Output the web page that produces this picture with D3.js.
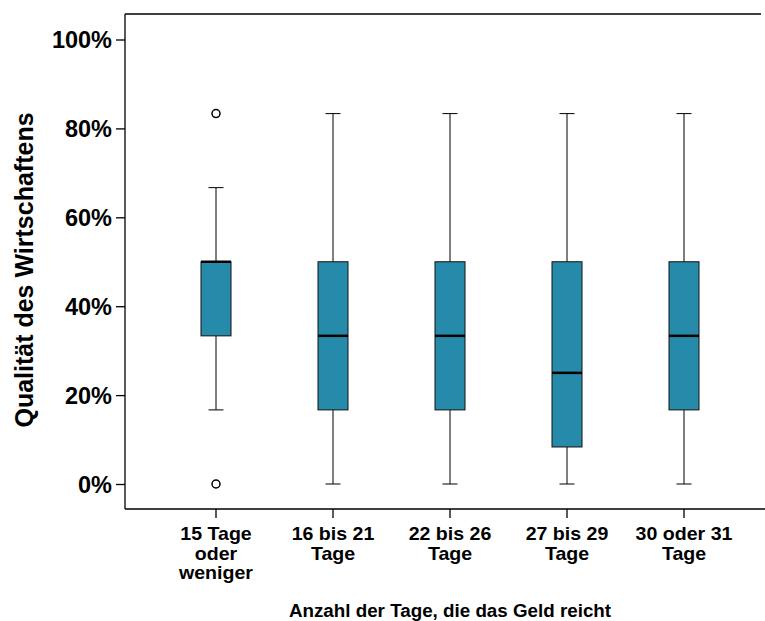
<!DOCTYPE html>
<html><head><meta charset="utf-8">
<script src="https://cdn.jsdelivr.net/npm/d3@7"></script>
<style>body{margin:0;background:#fff}svg{display:block}</style>
</head><body>
<svg id="c" width="765" height="621"></svg>
<script>
const categories = [["15 Tage","oder","weniger"],["16 bis 21","Tage"],["22 bis 26","Tage"],["27 bis 29","Tage"],["30 oder 31","Tage"]];
const whiskerLow  = [16.67, 0, 0, 0, 0];
const q1          = [33.33, 16.67, 16.67, 8.33, 16.67];
const median      = [50, 33.33, 33.33, 25, 33.33];
const q3          = [50, 50, 50, 50, 50];
const whiskerHigh = [66.67, 83.33, 83.33, 83.33, 83.33];
const outliers    = [[0, 83.33], [], [], [], []];
const yTicks = [0, 20, 40, 60, 80, 100];

(function(){
const svg = d3.select("#c");
const left = 125, topY = 14, bottom = 509;
const font = "'Liberation Sans', Arial, sans-serif";

const y = d3.scaleLinear().domain([0, 100]).range([484, 39.5]);
const x = d3.scaleBand().domain(d3.range(categories.length)).range([157.5, 742.5]).paddingInner(0).paddingOuter(0);
const cx = i => x(i) + x.bandwidth() / 2;
const boxW = 30, capW = 15, color = "#268BAB";

// frame
svg.append("line").attr("x1", left).attr("x2", left).attr("y1", topY).attr("y2", bottom).attr("stroke", "#000").attr("stroke-width", 1.3);
svg.append("line").attr("x1", left).attr("x2", 761).attr("y1", topY).attr("y2", topY).attr("stroke", "#000").attr("stroke-width", 1.3);
svg.append("line").attr("x1", left).attr("x2", 765).attr("y1", bottom).attr("y2", bottom).attr("stroke", "#000").attr("stroke-width", 1.3);

// y axis
const ya = svg.append("g").attr("transform", `translate(${left},0)`)
  .call(d3.axisLeft(y).tickValues(yTicks).tickSize(9).tickFormat(d => d + "%"));
ya.select(".domain").remove();
ya.selectAll("line").attr("stroke", "#000").attr("stroke-width", 1.3);
ya.selectAll("text").attr("font-family", font).attr("font-weight", "bold").attr("font-size", 23.5).attr("fill", "#000").attr("x", -13).attr("dy", "0.35em");

// x axis
const xa = svg.append("g").attr("transform", `translate(0,${bottom})`)
  .call(d3.axisBottom(x).tickSize(9).tickFormat(""));
xa.select(".domain").remove();
xa.selectAll("line").attr("stroke", "#000").attr("stroke-width", 1.3);
categories.forEach((lines, i) => {
  lines.forEach((l, j) => {
    svg.append("text").attr("transform", `translate(${cx(i)},${540 + j * 19.5}) scale(1.1,1)`).attr("text-anchor", "middle")
      .attr("font-family", font).attr("font-weight", "bold").attr("font-size", 17.8).attr("fill", "#000").text(l);
  });
});

// boxes
categories.forEach((c, i) => {
  const g = svg.append("g");
  const X = cx(i);
  g.append("line").attr("x1", X).attr("x2", X).attr("y1", y(whiskerHigh[i])).attr("y2", y(q3[i])).attr("stroke", "#000").attr("stroke-width", 1);
  g.append("line").attr("x1", X).attr("x2", X).attr("y1", y(q1[i])).attr("y2", y(whiskerLow[i])).attr("stroke", "#000").attr("stroke-width", 1);
  g.append("line").attr("x1", X - capW/2).attr("x2", X + capW/2).attr("y1", y(whiskerHigh[i])).attr("y2", y(whiskerHigh[i])).attr("stroke", "#000").attr("stroke-width", 1);
  g.append("line").attr("x1", X - capW/2).attr("x2", X + capW/2).attr("y1", y(whiskerLow[i])).attr("y2", y(whiskerLow[i])).attr("stroke", "#000").attr("stroke-width", 1);
  g.append("rect").attr("x", X - boxW/2).attr("width", boxW).attr("y", y(q3[i])).attr("height", y(q1[i]) - y(q3[i]))
    .attr("fill", color).attr("stroke", "#111").attr("stroke-width", 1);
  g.append("line").attr("x1", X - boxW/2).attr("x2", X + boxW/2).attr("y1", y(median[i])).attr("y2", y(median[i])).attr("stroke", "#000").attr("stroke-width", 2.5);
  outliers[i].forEach(v => {
    g.append("circle").attr("cx", X).attr("cy", y(v)).attr("r", 4).attr("fill", "#fff").attr("stroke", "#000").attr("stroke-width", 1.5);
  });
});

// titles
svg.append("text").attr("transform", "translate(33,270) rotate(-90)").attr("text-anchor", "middle")
  .attr("font-family", font).attr("font-weight", "bold").attr("font-size", 25).attr("fill", "#000").text("Qualität des Wirtschaftens");
svg.append("text").attr("x", 450).attr("y", 617).attr("text-anchor", "middle")
  .attr("font-family", font).attr("font-weight", "bold").attr("font-size", 18.8).attr("fill", "#000").text("Anzahl der Tage, die das Geld reicht");
})();
</script>
</body></html>
